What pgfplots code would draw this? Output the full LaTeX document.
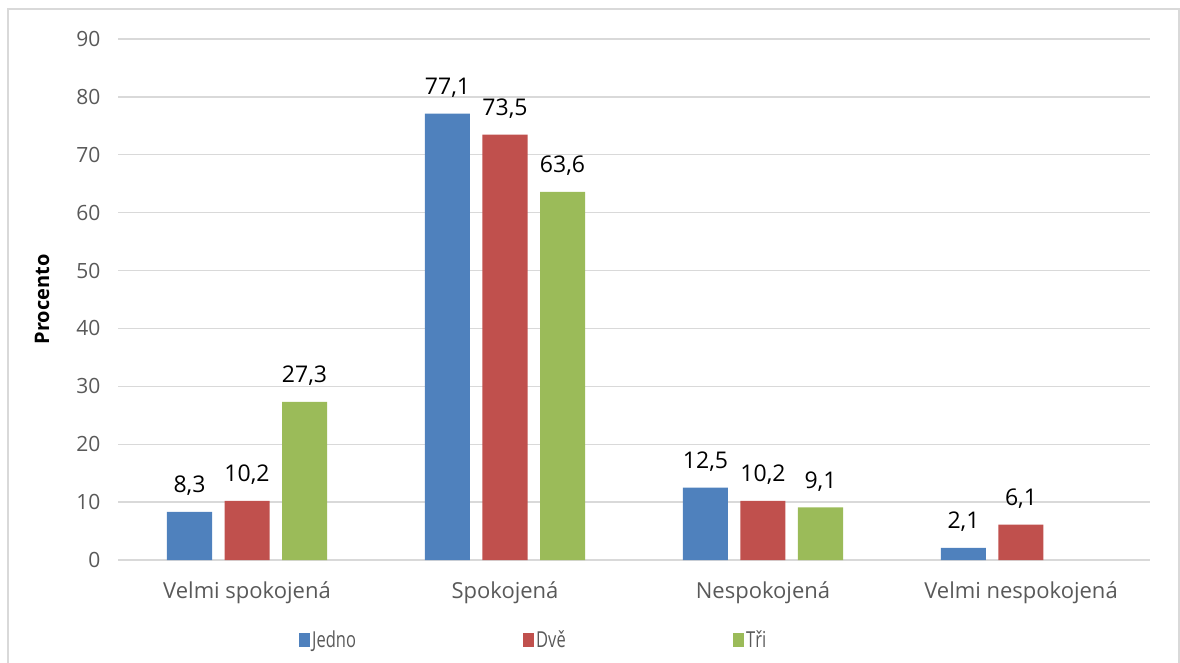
\documentclass[border=0pt]{standalone}
\usepackage{pgfplots}
\pgfplotsset{compat=1.18}
\usepackage{fontspec}
\setmainfont{Open Sans}

\definecolor{jblue}{HTML}{4F81BD}
\definecolor{jred}{HTML}{C0504D}
\definecolor{jgreen}{HTML}{9BBB59}
\definecolor{gridgray}{HTML}{D9D9D9}
\definecolor{labgray}{HTML}{595959}

\newcommand{\legtext}[2]{\makebox[#1][l]{\scalebox{0.75}[1]{#2}}}

\begin{document}
\begin{tikzpicture}[x=1pt,y=1pt]
\path[use as bounding box] (0,0) rectangle (1180,662);
\draw[gridgray, line width=1.5pt] (8,-10) rectangle (1179,653);
\begin{axis}[
  at={(118pt,102pt)}, anchor=south west,
  width=1032pt, height=521pt, scale only axis,
  xmin=-0.5, xmax=3.5, ymin=0, ymax=90,
  ybar, bar width=45pt,
  xtick={0,1,2,3},
  xticklabels={Velmi spokojená, Spokojená, Nespokojená, Velmi nespokojená},
  ytick={0,10,...,90},
  ymajorgrids, grid style={gridgray, line width=1.3pt},
  axis line style={draw=none},
  major tick length=0pt,
  /pgf/number format/assume math mode=true,
  tick label style={font=\fontsize{21}{25}\selectfont, text=labgray},
  yticklabel style={anchor=east, xshift=-14pt},
  xticklabel style={anchor=center, yshift=-33pt, font=\fontsize{22}{26}\selectfont},
  ylabel={\textbf{Procento}},
  ylabel style={at={(axis description cs:-0.0736,0.5)}, anchor=center, font=\fontsize{20}{24}\selectfont, text=black},
  nodes near coords,
  every node near coord/.append style={font=\fontsize{23}{27}\selectfont, text=black, anchor=base, inner sep=0pt, yshift=19pt,
    /pgf/number format/.cd, fixed, fixed zerofill, precision=1, use comma},
  legend columns=3,
  legend style={at={(axis description cs:0.1754,-0.1536)}, anchor=west, draw=none, fill=none, inner sep=0pt,
    font=\fontsize{22}{26}\selectfont, text=labgray},
  legend image code/.code={\fill[#1] (0pt,-7pt) rectangle (11pt,7pt);},
]
\addplot[fill=jblue, draw=none, bar shift=-57.5pt] coordinates {(0,8.3) (1,77.1) (2,12.5) (3,2.1)};
\addlegendentry{\legtext{209pt}{Jedno}}
\addplot[fill=jred, draw=none, bar shift=0pt] coordinates {(0,10.2) (1,73.5) (2,10.2) (3,6.1)};
\addlegendentry{\legtext{195pt}{Dvě}}
\addplot[fill=jgreen, draw=none, bar shift=57.5pt] coordinates {(0,27.3) (1,63.6) (2,9.1)};
\addlegendentry{\legtext{30pt}{Tři}}
\end{axis}
\end{tikzpicture}
\end{document}
